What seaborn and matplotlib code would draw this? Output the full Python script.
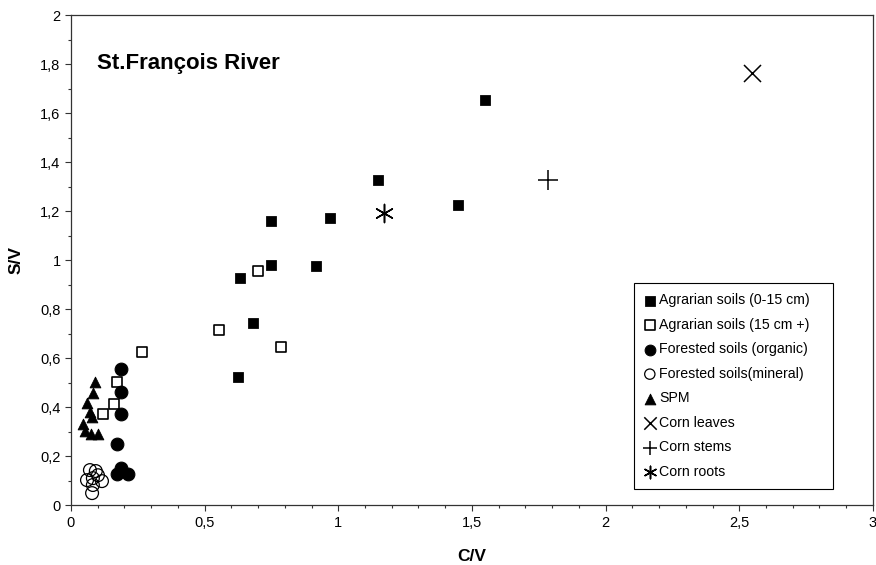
import matplotlib
matplotlib.use("Agg")
import matplotlib.pyplot as plt
from matplotlib.ticker import MultipleLocator, FuncFormatter
import seaborn as sns
import pandas as pd

sns.set_style("white")
plt.rcParams['font.family'] = ['Liberation Sans', 'DejaVu Sans']
plt.rcParams['text.color'] = 'black'
plt.rcParams['axes.labelcolor'] = 'black'
plt.rcParams['xtick.color'] = 'black'
plt.rcParams['ytick.color'] = 'black'

# Data (C/V, S/V)
agr_top_x = [1.549, 1.149, 1.448, 0.969, 0.748, 0.748, 0.917, 0.632, 0.681, 0.625]
agr_top_y = [1.653, 1.327, 1.224, 1.171, 1.159, 0.980, 0.976, 0.927, 0.743, 0.522]

agr_deep_x = [0.700, 0.554, 0.785, 0.266, 0.172, 0.161, 0.120]
agr_deep_y = [0.955, 0.714, 0.645, 0.624, 0.502, 0.412, 0.371]

for_org_x = [0.187, 0.187, 0.187, 0.172, 0.187, 0.172, 0.213]
for_org_y = [0.555, 0.461, 0.371, 0.249, 0.151, 0.127, 0.127]

for_min_x = [0.071, 0.093, 0.060, 0.082, 0.116, 0.101, 0.079, 0.082]
for_min_y = [0.143, 0.139, 0.102, 0.110, 0.098, 0.122, 0.049, 0.082]

spm_x = [0.090, 0.082, 0.060, 0.071, 0.079, 0.045, 0.052, 0.075, 0.101]
spm_y = [0.502, 0.457, 0.416, 0.380, 0.359, 0.331, 0.302, 0.290, 0.290]

leaves_x, leaves_y = [2.548], [1.763]
stems_x, stems_y = [1.785], [1.327]
roots_x, roots_y = [1.171], [1.192]

labels = ["Agrarian soils (0-15 cm)", "Agrarian soils (15 cm +)",
          "Forested soils (organic)", "Forested soils(mineral)", "SPM",
          "Corn leaves", "Corn stems", "Corn roots"]

series = [
    (agr_top_x, agr_top_y, dict(marker="s", s=50, color="black", edgecolor="black")),
    (agr_deep_x, agr_deep_y, dict(marker="s", s=50, facecolor="white", edgecolor="black", linewidth=1.2)),
    (for_org_x, for_org_y, dict(marker="o", s=85, color="black", edgecolor="black")),
    (for_min_x, for_min_y, dict(marker="o", s=85, facecolor="none", edgecolor="black", linewidth=0.9)),
    (spm_x, spm_y, dict(marker="^", s=60, color="black", edgecolor="black")),
    (leaves_x, leaves_y, dict(marker="x", s=150, color="black", linewidth=1.1)),
    (stems_x, stems_y, dict(marker="+", s=190, color="black", linewidth=1.1)),
    (roots_x, roots_y, dict(marker=(6, 2, 0), s=170, color="black", linewidth=1.1)),
]
legend_sizes = [60, 55, 60, 55, 60, 80, 110, 80]

fig = plt.figure(figsize=(8.76, 5.65), dpi=100)
ax = fig.add_axes([0.081, 0.106, 0.9155, 0.867])

for (xs, ys, kw), lab in zip(series, labels):
    df = pd.DataFrame({"C/V": xs, "S/V": ys})
    sns.scatterplot(data=df, x="C/V", y="S/V", ax=ax, label=lab, zorder=3, **kw)

ax.set_xlim(0, 3)
ax.set_ylim(0, 2)
ax.xaxis.set_major_locator(MultipleLocator(0.5))
ax.xaxis.set_minor_locator(MultipleLocator(0.1))
ax.yaxis.set_major_locator(MultipleLocator(0.2))
ax.yaxis.set_minor_locator(MultipleLocator(0.1))

def comma(v, pos):
    s = ("%.1f" % v).rstrip("0").rstrip(".")
    return s.replace(".", ",")

ax.xaxis.set_major_formatter(FuncFormatter(comma))
ax.yaxis.set_major_formatter(FuncFormatter(comma))
ax.tick_params(which="major", direction="out", length=4, width=0.8, color="#333333",
               labelsize=10.5, labelcolor="black", bottom=True, left=True, top=False, right=False)
ax.tick_params(which="minor", direction="out", length=2.5, width=0.8, color="#333333",
               bottom=True, left=True, top=False, right=False)

for sp in ax.spines.values():
    sp.set_visible(True)
    sp.set_color("#333333")
    sp.set_linewidth(0.9)

ax.set_xlabel("C/V", fontsize=12.5, fontweight="bold", labelpad=14, color="black")
ax.set_ylabel("S/V", fontsize=12.5, fontweight="bold", labelpad=12, color="black")

ax.text(0.033, 0.890, "St.François River", transform=ax.transAxes, color="black",
        fontsize=16, fontweight="bold", va="baseline", ha="left")

leg = ax.legend(loc="upper left", bbox_to_anchor=(0.702, 0.0, 0.248, 0.453),
                mode="expand", borderaxespad=0,
                fancybox=False, edgecolor="black", framealpha=1, fontsize=10.2,
                handlelength=0.8, handletextpad=0.25, labelspacing=0.74,
                borderpad=0.72, markerscale=1.0)
leg.get_frame().set_linewidth(0.8)
for t in leg.get_texts():
    t.set_color("black")
for h, sz in zip(leg.legend_handles, legend_sizes):
    h.set_sizes([sz])

fig.savefig("out.png", dpi=100)
